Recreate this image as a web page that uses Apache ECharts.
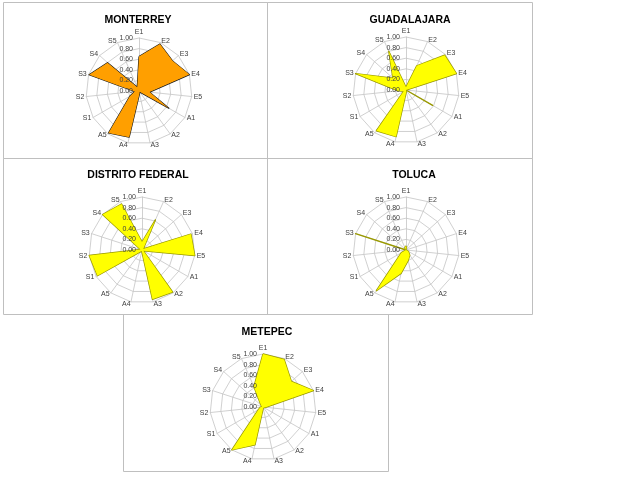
<!DOCTYPE html>
<html><head><meta charset="utf-8">
<script src="https://cdn.jsdelivr.net/npm/echarts@6/dist/echarts.min.js"></script>
<style>html,body{margin:0;padding:0;background:#fff}#c{width:640px;height:488px}</style>
</head><body><div id="c"></div>
<script>
const categories = ['E1','E2','E3','E4','E5','A1','A2','A3','A4','A5','S1','S2','S3','S4','S5'];
const cities = ['MONTERREY','GUADALAJARA','DISTRITO FEDERAL','TOLUCA','METEPEC'];
const monterrey       = [0.65,0.97,0.85,1.00,0.20,0.65,0.02,0.05,0.89,0.98,0.20,0.08,0.99,0.80,0.08];
const guadalajara     = [0.05,0.50,0.98,1.00,0.00,0.58,0.00,0.03,0.90,0.95,0.05,0.15,1.00,0.33,0.80];
const distritoFederal = [0.15,0.62,0.03,0.97,1.00,0.03,0.98,0.95,0.02,0.03,0.97,1.00,0.03,1.00,0.95];
const toluca          = [0.08,0.02,0.00,0.00,0.00,0.05,0.12,0.20,0.45,0.95,0.10,0.00,1.00,0.00,0.05];
const metepec         = [1.00,0.98,0.72,1.00,0.05,0.02,0.02,0.02,0.73,1.00,0.10,0.05,0.02,0.05,0.42];
const tickLabels = ['0.00','0.20','0.40','0.60','0.80','1.00'];
const seriesValues = [monterrey, guadalajara, distritoFederal, toluca, metepec];

// ECharts radar runs counter-clockwise; reorder so categories run clockwise from the top
const order = [0].concat(categories.map((_, i) => categories.length - 1 - i).slice(0, categories.length - 1));

// layout (not data)
const boxes = [[3,2,264,156],[267,2,265,156],[3,158,264,156],[267,158,265,156],[123,314,265,157]];
const centers = [[139,91],[406,90],[142,250],[406,250],[263,407]];
const titlePos = [[133,10],[405,10],[133,165],[409,165],[262,322]];
const fills = ['#FF9F00','#FFFF00','#FFFF00','#FFFF00','#FFFF00'];
const edges = ['#1a1a1a','#9a9a00','#9a9a00','#9a9a00','#9a9a00'];
const R = 53;

const chart = echarts.init(document.getElementById('c'), null, {renderer:'canvas'});
const labelStyle = {fontSize: 7, color: '#404040', fontFamily: 'Liberation Sans', margin: 6,
  formatter: v => tickLabels[Math.round(v * 5)]};
// grid radars (beneath the areas)
const gridRadars = centers.map(c => ({
  center: c, radius: R, startAngle: 90, shape: 'polygon', splitNumber: 5, z: 1,
  indicator: order.map(k => ({name: categories[k], min: 0, max: 1})),
  axisName: {color: '#404040', fontSize: 7, fontFamily: 'Liberation Sans'},
  nameGap: 2,
  axisLine: {show: true, lineStyle: {color: '#c4c4c4', width: 0.8}},
  splitLine: {show: true, lineStyle: {color: '#c4c4c4', width: 0.8}},
  splitArea: {show: false},
  axisTick: {show: false},
  axisLabel: {show: false}
}));
// label radars (tick labels drawn above the areas)
const labelRadars = centers.map(c => ({
  center: c, radius: R, startAngle: 90, shape: 'polygon', splitNumber: 5, z: 10,
  indicator: order.map((k, j) => j === 0
    ? {name: '', min: 0, max: 1, axisLabel: {show: true}}
    : {name: '', min: 0, max: 1}),
  axisName: {show: false},
  axisLine: {show: false},
  splitLine: {show: false},
  splitArea: {show: false},
  axisTick: {show: false},
  axisLabel: Object.assign({show: false}, labelStyle)
}));
const series = seriesValues.map((vals, i) => ({
  type: 'radar', radarIndex: i, symbol: 'none', silent: true, z: 2,
  lineStyle: {color: edges[i], width: i === 0 ? 1.2 : 1.4},
  areaStyle: {color: fills[i], opacity: 1},
  data: [{value: order.map(k => vals[k]), name: cities[i]}]
}));
const titles = cities.map((t,i) => ({
  text: t, left: titlePos[i][0], top: titlePos[i][1], textAlign: 'center',
  textStyle: {fontSize: 10.5, fontWeight: 'bold', color: '#000', fontFamily: 'Liberation Sans'}
}));
chart.setOption({
  animation: false,
  title: titles,
  radar: gridRadars.concat(labelRadars),
  series: series,
  graphic: boxes.map(b => ({type:'rect', silent: true, z: -10,
    shape: {x: b[0]+0.5, y: b[1]+0.5, width: b[2], height: b[3]},
    style: {fill: 'none', stroke: '#bfbfbf', lineWidth: 1}}))
});
</script></body></html>
